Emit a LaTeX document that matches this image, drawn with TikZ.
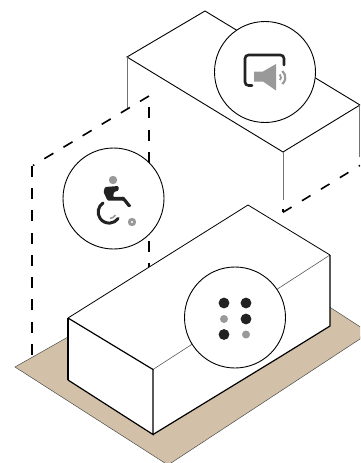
\documentclass[tikz,border=0pt]{standalone}
\definecolor{tan}{HTML}{D2C1A8}
\definecolor{ink}{HTML}{222222}
\definecolor{mid}{HTML}{999999}
\tikzset{
  edge/.style={line width=0.9pt,black},
  heavy/.style={line width=1.2pt,black},
  faint/.style={line width=0.6pt,black!65},
  stem/.style={line width=1pt,black!55},
  dashline/.style={line width=1.6pt,black,dash pattern=on 11pt off 11.3pt},
  badge/.style={draw=black,fill=white,line width=0.9pt},
  dotb/.style={fill=ink,draw=none},
  dotg/.style={fill=mid,draw=none}
}
\begin{document}
\begin{tikzpicture}[x=1pt,y=1pt,yscale=-1]
\useasboundingbox (0,0) rectangle (360,463);
\begin{scope}
\clip (0,0) rectangle (360,463);
% ground
\fill[tan,draw=black!70,line width=0.5pt] (15,367) -- (68,337) -- (330,307.3) -- (362,328) -- (360,339) -- (168,465) -- cycle;
\fill[tan] (68,337) -- (248,260) -- (330,307.3) -- (150,420) -- cycle;
% upper volume
\draw[edge] (127,57) -- (205,11) -- (360,105) -- (283,152) -- cycle;
\draw[stem] (127,57) -- (127,108);
\draw[stem] (283,152) -- (283,200);
\draw[stem] (359,105) -- (359,157);
% dashed lines
\draw[dashline] (32,355) -- (32,166);
\draw[dashline,dash pattern=on 10.5pt off 11.8pt] (149,96) -- (33,165.5);
\draw[dashline,dash phase=11pt] (149,96) -- (149,275);
\draw[dashline,dash pattern=on 10pt off 12.2pt] (283,212.3) -- (360,165.4);
\draw[line width=1.2pt] (283,209) -- (283,212.3);
% lower volume
\fill[white] (68,318) -- (248,205) -- (330,255) -- (330,326) -- (153,434.5) -- (68,380) -- cycle;
\draw[faint] (153,369.5) -- (330,255);
\draw[heavy] (68,380) -- (68,318);
\draw[line width=0.8pt,black] (68,318) -- (248,205) -- (330,255);
\draw[heavy] (330,255) -- (330,326) -- (275,360);
\draw[heavy] (68,318) -- (153,369.5) -- (153,434.5) -- (68,380);
\draw[heavy] (153,434.5) -- (275,360);
\end{scope}
% badges
\node[badge,circle,minimum size=101pt,inner sep=0pt] (speaker) at (265,72) {};
\node[badge,circle,minimum size=101pt,inner sep=0pt] (chair) at (113.5,198.5) {};
\node[badge,circle,minimum size=101pt,inner sep=0pt] (braille) at (235,317.5) {};
% speaker icon
\draw[ink,line width=2.6pt,line cap=round,rounded corners=3.5pt] (252,85.5) -- (245,85.5) -- (245,55) -- (284,55) -- (284,65);
\fill[mid] (254,71.5) -- (263,71.5) -- (276,64) -- (276,90.5) -- (263,81.5) -- (254,81.5) -- cycle;
\draw[mid,line width=1.8pt] (279.8,74.4) arc (-50:50:3.7);
\draw[mid,line width=2.2pt] (282.3,71) arc (-50:50:8.5);
% wheelchair icon
\fill[mid] (113,180) circle (4.2);
\fill[ink,rounded corners=1pt] (105,187) -- (118.5,186) -- (118.5,190.5) -- (114,192) -- (113,197) -- (124,196.7) -- (131.5,206) -- (128.5,207.5) -- (123,200.5) -- (107.5,200.5) -- (103.5,192) -- cycle;
\draw[ink,line width=3pt,line cap=round] (103,203) arc (-124:-325:11);
\draw[mid,line width=1.6pt] (110,218.3) arc (90:30:6.3);
\fill[mid,even odd rule] (132,222) circle (4.2) (132,222) circle (1.3);
% braille icon
\fill[dotb] (224,303) circle (5.4);
\fill[dotb] (246,303) circle (5.4);
\fill[dotg] (224,319) circle (4);
\fill[dotb] (246,319) circle (5.4);
\fill[dotb] (224,334.5) circle (5.4);
\fill[dotg] (246,334.5) circle (4);
\end{tikzpicture}
\end{document}
